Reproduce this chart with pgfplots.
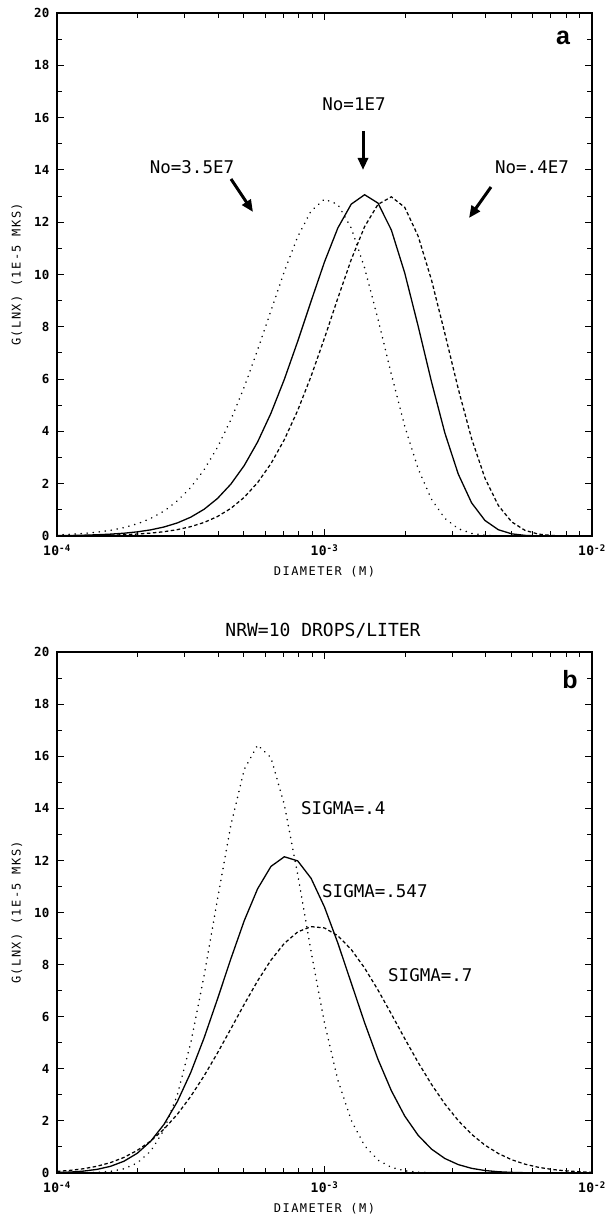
\documentclass[border=0pt]{standalone}
\usepackage{fontspec}
\usepackage{pgfplots}
\pgfplotsset{compat=1.18}
\usepackage{pgfplotstable}
\usetikzlibrary{arrows.meta}
\newfontfamily\plotfont[LetterSpace=12]{DejaVu Sans Mono}
\newfontfamily\tickfont[LetterSpace=2]{DejaVu Sans Mono}
\newfontfamily\annfont{DejaVu Sans Mono}
\newfontfamily\panelfont{Liberation Sans}

% Panel a: N0 = 3.5E7 (dotted), 1E7 (solid), .4E7 (dashed)
\pgfplotstableread{
D dot sol das
1.0000e-4 0.043 0.013 0.006
1.1220e-4 0.065 0.020 0.009
1.2589e-4 0.098 0.031 0.014
1.4125e-4 0.146 0.047 0.021
1.5849e-4 0.217 0.071 0.032
1.7783e-4 0.319 0.106 0.049
1.9953e-4 0.464 0.158 0.074
2.2387e-4 0.669 0.234 0.110
2.5119e-4 0.953 0.344 0.164
2.8184e-4 1.341 0.500 0.243
3.1623e-4 1.858 0.719 0.357
3.5481e-4 2.533 1.022 0.518
3.9811e-4 3.391 1.434 0.744
4.4668e-4 4.445 1.983 1.056
5.0119e-4 5.695 2.695 1.479
5.6234e-4 7.110 3.595 2.041
6.3096e-4 8.621 4.697 2.769
7.0795e-4 10.12 5.992 3.686
7.9433e-4 11.45 7.446 4.803
8.9125e-4 12.43 8.981 6.110
1.0000e-3 12.88 10.48 7.569
1.1220e-3 12.68 11.78 9.097
1.2589e-3 11.78 12.69 10.57
1.4125e-3 10.25 13.05 11.83
1.5849e-3 8.294 12.73 12.68
1.7783e-3 6.180 11.70 12.97
1.9953e-3 4.200 10.06 12.57
2.2387e-3 2.573 8.031 11.47
2.5119e-3 1.404 5.897 9.790
2.8184e-3 0.673 3.940 7.746
3.1623e-3 0.279 2.371 5.631
3.5481e-3 0.098 1.267 3.722
3.9811e-3 0.029 0.593 2.211
4.4668e-3 0.007 0.239 1.165
5.0119e-3 0.001 0.082 0.537
5.6234e-3 0.000 0.023 0.213
6.3096e-3 0.000 0.005 0.071
7.0795e-3 0.000 0.001 0.020
7.9433e-3 0.000 0.000 0.004
8.9125e-3 0.000 0.000 0.001
1.0000e-2 0.000 0.000 0.000
}\tableA

% Panel b: SIGMA = .4 (dotted), .547 (solid), .7 (dashed)
\pgfplotstableread{
D dot sol das
1.0000e-4 0.001 0.017 0.062
1.1220e-4 0.002 0.036 0.102
1.2589e-4 0.007 0.073 0.165
1.4125e-4 0.022 0.140 0.260
1.5849e-4 0.062 0.256 0.399
1.7783e-4 0.161 0.450 0.596
1.9953e-4 0.383 0.756 0.866
2.2387e-4 0.832 1.215 1.224
2.5119e-4 1.652 1.866 1.684
2.8184e-4 3.005 2.741 2.255
3.1623e-4 4.987 3.855 2.940
3.5481e-4 7.574 5.187 3.730
3.9811e-4 10.51 6.677 4.606
4.4668e-4 13.35 8.222 5.536
5.0119e-4 15.49 9.685 6.477
5.6234e-4 16.43 10.91 7.375
6.3096e-4 15.94 11.77 8.173
7.0795e-4 14.13 12.14 8.816
7.9433e-4 11.46 11.98 9.256
8.9125e-4 8.494 11.31 9.458
1.0000e-3 5.757 10.21 9.407
1.1220e-3 3.567 8.825 9.107
1.2589e-3 2.021 7.295 8.581
1.4125e-3 1.047 5.769 7.869
1.5849e-3 0.495 4.364 7.024
1.7783e-3 0.215 3.159 6.103
1.9953e-3 0.085 2.187 5.160
2.2387e-3 0.031 1.449 4.247
2.5119e-3 0.010 0.918 3.402
2.8184e-3 0.003 0.557 2.652
3.1623e-3 0.000 0.323 2.013
3.5481e-3 0.000 0.179 1.487
3.9811e-3 0.000 0.095 1.069
4.4668e-3 0.000 0.048 0.748
5.0119e-3 0.000 0.024 0.509
5.6234e-3 0.000 0.011 0.338
6.3096e-3 0.000 0.005 0.218
7.0795e-3 0.000 0.002 0.137
7.9433e-3 0.000 0.001 0.084
8.9125e-3 0.000 0.000 0.050
1.0000e-2 0.000 0.000 0.029
}\tableB

\pgfplotsset{
  mypanel/.style={
    xmin=1e-4, xmax=1e-2, ymin=0, ymax=20,
    width=535pt, scale only axis,
    xtick={1e-4,1e-3,1e-2},
    xticklabels={10\textsuperscript{-4},10\textsuperscript{-3},10\textsuperscript{-2}},
    ytick={0,2,...,20}, minor y tick num=1,
    tick align=inside,
    major tick length=7pt, minor tick length=5pt,
    axis line style={line width=1.3pt},
    every tick/.style={black, line width=1pt},
    ticklabel style={font=\tickfont\bfseries\fontsize{12.5}{14}\selectfont},
    yticklabel style={/pgf/number format/assume math mode=true, xshift=-4pt},
    xticklabel style={yshift=-5pt, font=\tickfont\bfseries\fontsize{13}{15}\selectfont},
    xlabel={DIAMETER (M)}, ylabel={G(LNX) (1E-5 MKS)},
    label style={font=\plotfont\fontsize{12}{14}\selectfont},
    xlabel style={at={(axis description cs:0.5,-0.069)}, anchor=center},
    ylabel style={at={(axis description cs:-0.0748,0.5)}, anchor=center},
  },
  dotc/.style={black, line width=1.7pt, line cap=round, dash pattern=on 0.05pt off 6pt},
  solc/.style={black, line width=1.3pt},
  dasc/.style={black, line width=1.25pt, dash pattern=on 3.5pt off 2.5pt},
}

\begin{document}
\begin{tikzpicture}[x=1pt,y=1pt]
\useasboundingbox (0,0) rectangle (605,1221);

\begin{axis}[xmode=log, mypanel, height=523pt, at={(57pt,685pt)}, anchor=south west]
\addplot[dotc] table[x=D,y=dot]{\tableA};
\addplot[solc] table[x=D,y=sol]{\tableA};
\addplot[dasc] table[x=D,y=das]{\tableA};
\end{axis}

\begin{axis}[xmode=log, mypanel, height=521pt, at={(57pt,48pt)}, anchor=south west]
\addplot[dotc] table[x=D,y=dot]{\tableB};
\addplot[solc] table[x=D,y=sol]{\tableB};
\addplot[dasc] table[x=D,y=das]{\tableB};
\end{axis}

% annotations panel a
\node[font=\annfont\fontsize{17.5}{20}\selectfont] at (354pt,1117pt) {No=1E7};
\node[font=\annfont\fontsize{17.5}{20}\selectfont] at (192pt,1054pt) {No=3.5E7};
\node[font=\annfont\fontsize{17.5}{20}\selectfont] at (532pt,1054pt) {No=.4E7};
\draw[line width=3pt, -{Triangle[length=12pt,width=10pt]}] (363pt,1090pt) -- (363pt,1051pt);
\draw[line width=3pt, -{Triangle[length=12pt,width=10pt]}] (231pt,1042pt) -- (253pt,1009pt);
\draw[line width=3pt, -{Triangle[length=12pt,width=10pt]}] (491pt,1034pt) -- (469pt,1003pt);
\node[font=\panelfont\bfseries\fontsize{25}{28}\selectfont] at (563pt,1183pt) {a};

% annotations panel b
\node[font=\annfont\fontsize{18}{21}\selectfont] at (323pt,590pt) {NRW=10 DROPS/LITER};
\node[font=\annfont\fontsize{17.5}{20}\selectfont, anchor=west, inner sep=0pt] at (301pt,413pt) {SIGMA=.4};
\node[font=\annfont\fontsize{17.5}{20}\selectfont, anchor=west, inner sep=0pt] at (322pt,330pt) {SIGMA=.547};
\node[font=\annfont\fontsize{17.5}{20}\selectfont, anchor=west, inner sep=0pt] at (388pt,246pt) {SIGMA=.7};
\node[font=\panelfont\bfseries\fontsize{25}{28}\selectfont] at (570pt,541pt) {b};
\end{tikzpicture}
\end{document}
